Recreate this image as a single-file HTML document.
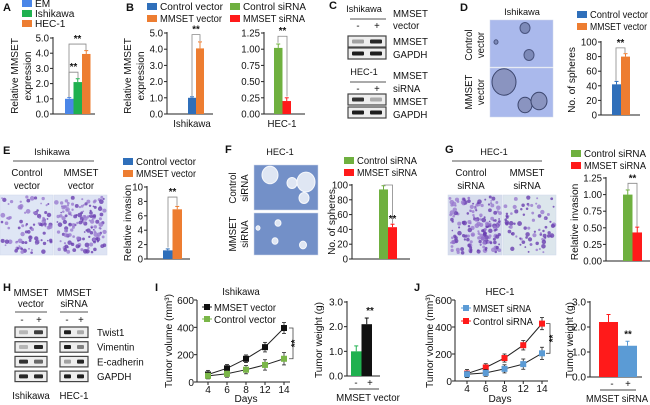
<!DOCTYPE html>
<html><head><meta charset="utf-8"><style>
html,body{margin:0;padding:0;background:#fff;}
svg{display:block;font-family:"Liberation Sans",Arial,sans-serif;}
</style></head><body>
<svg id="fig" width="650" height="405" viewBox="0 0 650 405"></svg>
<script>
// ---- data ----
const aCats=['EM','Ishikawa','HEC-1'];
const aVals=[1.0,2.1,3.95];
const aErr=[0.08,0.22,0.22];
const bIshVals=[1.0,4.05];
const bIshErr=[0.06,0.4];
const bHecVals=[1.02,0.2];
const bHecErr=[0.06,0.05];
const dVals=[42,80];
const dErr=[4,4];
const eVals=[1.2,6.9];
const eErr=[0.2,0.4];
const fVals=[94,43];
const fErr=[5,4];
const gVals=[1.0,0.43];
const gErr=[0.07,0.08];
const days=[4,6,8,12,14];
const iMmset=[55,100,170,255,395];
const iMmsetErr=[30,28,28,35,40];
const iCtrl=[45,60,90,125,170];
const iCtrlErr=[22,25,30,38,45];
const iwVals=[1.0,2.1];
const iwErr=[0.22,0.25];
const jMmset=[50,60,90,125,205];
const jMmsetErr=[20,25,30,38,45];
const jCtrl=[55,100,170,265,425];
const jCtrlErr=[30,28,30,35,45];
const jwVals=[2.2,1.25];
const jwErr=[0.3,0.18];
const volTicks=[0,200,400,600];
const wTicks=[0,1,2,3];

const NS='http://www.w3.org/2000/svg';
const svg=document.getElementById('fig');
const BLUE='#2f6fba',ORANGE='#ed7d31',GREEN='#6fb03f',RED='#ff1a1a',AGREEN='#1fb14f',LBLUE='#5b9bd5';

function el(tag,attrs,name,parent){
  const e=document.createElementNS(NS,tag);
  for(const k in attrs) e.setAttribute(k,attrs[k]);
  
  
  (parent||svg).appendChild(e);
  return e;
}
function txt(x,y,s,name,o){
  o=o||{};
  const a={x:x,y:y,'font-size':(o.fs||10)*0.92,'text-anchor':o.anchor||'start',fill:o.fill||'#111'};
  if(o.bold) a['font-weight']='bold';
  if(o.rot) a.transform='rotate(-90 '+x+' '+y+')';
  if(o.len){a.textLength=o.len;a.lengthAdjust='spacingAndGlyphs';}
  const t=el('text',a,name,o.parent);
  t.textContent=s;
  return t;
}
function line(x1,y1,x2,y2,name,c,w){return el('line',{x1:x1,y1:y1,x2:x2,y2:y2,stroke:c||'#222','stroke-width':w||1},name);}

function barChart(p){
  const sy=v=>p.yB-(v/p.max)*(p.yB-p.yT);
  line(p.ax,p.yT-1,p.ax,p.yB,p.name+'-y-axis');
  line(p.ax,p.yB,p.xEnd,p.yB,p.name+'-x-axis');
  p.ticks.forEach(t=>{
    const y=sy(t);
    line(p.ax-3,y,p.ax,y,p.name+'-tick');
    txt(p.ax-4,y+3.5,t.toFixed(p.dec),p.name+'-tick-label',{fs:p.tfs||10.5,anchor:'end'});
  });
  p.vals.forEach((v,i)=>{
    const x=p.bx0+i*p.bw, y=sy(v), ey=sy(v+p.errs[i]);
    el('rect',{x:x,y:y,width:p.bw,height:p.yB-y,fill:p.cols[i]},p.name+'-bar-'+i);
    line(x+p.bw/2,y,x+p.bw/2,ey,p.name+'-error-bar',p.ecol||p.cols[i]);
    line(x+p.bw/2-2,ey,x+p.bw/2+2,ey,p.name+'-error-cap',p.ecol||p.cols[i]);
  });
  return sy;
}
function bracket(x1,x2,y1,y2,top,name){
  el('path',{d:'M'+x1+' '+y1+'V'+top+'H'+x2+'V'+y2,fill:'none',stroke:'#888','stroke-width':0.8},name);
  txt((x1+x2)/2,top-2,'**',name+'-stars',{fs:10.5,anchor:'middle',bold:true});
}
function legend(x,y,col,label,name,len){
  el('rect',{x:x,y:y-4,width:10,height:7,fill:col},name+'-swatch');
  txt(x+13,y+3,label,name+'-label',{fs:11,len:len});
}
function panel(x,y,s){txt(x,y,s,'panel-label-'+s,{fs:12,bold:true});}

// seeded generator for decorative micrograph texture only
let seed=7;
function rnd(){seed=(seed*16807)%2147483647;return seed/2147483647;}
function micro(x,y,w,h,bg,name,n,kind){
  el('rect',{x:x,y:y,width:w,height:h,fill:bg,stroke:'#cfd8ea','stroke-width':0.5},name);
  for(let i=0;i<n;i++){
    const cx=x+2+rnd()*(w-4),cy=y+2+rnd()*(h-4);
    if(kind==='cells'){
      el('circle',{cx:cx,cy:cy,r:0.8+rnd()*1.6,fill:rnd()<0.5?'#6a3fb0':'#9a7bd0','fill-opacity':0.8},name+'-cell');
    }
  }
}
function sphere(cx,cy,r,fill,stroke,name){el('ellipse',{cx:cx,cy:cy,rx:r,ry:r*1.1,fill:fill,stroke:stroke,'stroke-width':1},name);}

// ===== Panel A =====
panel(3,11,'A');
legend(22,4,'#4a86e8',aCats[0],'a-legend-em');
legend(22,14,AGREEN,aCats[1],'a-legend-ishikawa');
legend(22,24,ORANGE,aCats[2],'a-legend-hec1');
let sy=barChart({name:'a-chart',ax:53,yB:114,yT:38,max:5,ticks:[0,1,2,3,4,5],dec:1,vals:aVals,errs:aErr,cols:['#4a86e8',AGREEN,ORANGE],bx0:65,bw:8.5,xEnd:95});
bracket(69,78,sy(1.1),sy(2.35),sy(2.75),'a-bracket-1');
bracket(69,86,sy(1.1),sy(4.2),sy(4.6),'a-bracket-2');
txt(18,76,'Relative MMSET','a-y-axis-title-1',{fs:11,anchor:'middle',rot:true});
txt(31,76,'expression','a-y-axis-title-2',{fs:11,anchor:'middle',rot:true});

// ===== Panel B =====
panel(126,11,'B');
legend(147,7,BLUE,'Control vector','b-legend-control-vector',63);
legend(147,19,ORANGE,'MMSET vector','b-legend-mmset-vector',62);
legend(230,7,GREEN,'Control siRNA','b-legend-control-sirna',63);
legend(230,19,RED,'MMSET siRNA','b-legend-mmset-sirna',62);
sy=barChart({name:'b-ishikawa-chart',ax:167,yB:114,yT:33,max:5,ticks:[0,1,2,3,4,5],dec:1,vals:bIshVals,errs:bIshErr,cols:[BLUE,ORANGE],bx0:188,bw:8,xEnd:213});
bracket(192,200,sy(1.1),sy(4.5),sy(4.9),'b-bracket-1');
txt(192,127,'Ishikawa','b-ishikawa-label',{fs:10.5,anchor:'middle'});
sy=barChart({name:'b-hec1-chart',ax:264,yB:114,yT:33,max:1.25,ticks:[0,0.25,0.5,0.75,1,1.25],dec:2,vals:bHecVals,errs:bHecErr,cols:[GREEN,RED],bx0:274,bw:8.5,xEnd:305});
bracket(278,287,sy(1.1),sy(0.27),sy(1.2),'b-bracket-2');
txt(282,127,'HEC-1','b-hec1-label',{fs:10.5,anchor:'middle'});
txt(131,76,'Relative MMSET','b-y-axis-title-1',{fs:11,anchor:'middle',rot:true});
txt(144,76,'expression','b-y-axis-title-2',{fs:11,anchor:'middle',rot:true});

// ===== Panel C =====
panel(329,9,'C');
function blot(x,y,w,h,i1,i2,name){
  el('rect',{x:x,y:y,width:w,height:h,fill:'#eeeeee',stroke:'#444','stroke-width':1.2},name);
  el('rect',{x:x+4,y:y+h/2-2,width:w/2-7,height:4,rx:1,fill:'#111','fill-opacity':i1},name+'-band-1');
  el('rect',{x:x+w/2+3,y:y+h/2-2,width:w/2-7,height:4,rx:1,fill:'#111','fill-opacity':i2},name+'-band-2');
}
txt(364,12,'Ishikawa','c-ishikawa-label',{fs:10,anchor:'middle'});
line(350,19,386,19,'c-ishikawa-line','#777',1.2);
txt(358,29,'-','c-minus-1',{fs:10.5,anchor:'middle'});txt(377,29,'+','c-plus-1',{fs:10.5,anchor:'middle'});
blot(348,36,38,11,0.35,0.9,'c-blot-mmset-ishikawa');
blot(348,48,38,11,0.95,0.95,'c-blot-gapdh-ishikawa');
txt(393,17,'MMSET','c-label-mmset-1',{fs:10.5});txt(393,29,'vector','c-label-vector',{fs:10.5});
txt(393,45,'MMSET','c-label-mmset-2',{fs:10.5});txt(393,58,'GAPDH','c-label-gapdh-1',{fs:10.5});
txt(364,75,'HEC-1','c-hec1-label',{fs:10,anchor:'middle'});
line(350,82,386,82,'c-hec1-line','#777',1.2);
txt(358,92,'-','c-minus-2',{fs:10.5,anchor:'middle'});txt(377,92,'+','c-plus-2',{fs:10.5,anchor:'middle'});
blot(348,94,38,11,0.85,0.3,'c-blot-mmset-hec1');
blot(348,107,38,11,0.95,0.95,'c-blot-gapdh-hec1');
txt(393,79,'MMSET','c-label-mmset-3',{fs:10.5});txt(393,92,'siRNA','c-label-sirna',{fs:10.5});
txt(393,105,'MMSET','c-label-mmset-4',{fs:10.5});txt(393,118,'GAPDH','c-label-gapdh-2',{fs:10.5});

// ===== Panel D =====
panel(460,11,'D');
txt(522,15,'Ishikawa','d-ishikawa-label',{fs:10,anchor:'middle'});
micro(490,20,63,47,'#aab9ec','d-image-control',0);
micro(490,68,63,49,'#aab9ec','d-image-mmset',0);
sphere(525,28,5,'#7d8ab8','#4a5580','d-sphere');sphere(529,55,5,'#7d8ab8','#4a5580','d-sphere');sphere(496,42,2,'#7d8ab8','#4a5580','d-sphere');
sphere(504,82,12,'#8a94c0','#3c466e','d-sphere');sphere(525,105,7,'#8a94c0','#3c466e','d-sphere');sphere(539,101,8,'#8a94c0','#3c466e','d-sphere');
txt(472,45,'Control','d-row-label-1a',{fs:10.5,anchor:'middle',rot:true});txt(484,45,'vector','d-row-label-1b',{fs:10.5,anchor:'middle',rot:true});
txt(472,92,'MMSET','d-row-label-2a',{fs:10.5,anchor:'middle',rot:true});txt(484,92,'vector','d-row-label-2b',{fs:10.5,anchor:'middle',rot:true});
legend(577,15,BLUE,'Control vector','d-legend-control',58);
legend(577,27,ORANGE,'MMSET vector','d-legend-mmset',57);
sy=barChart({name:'d-chart',ax:601,yB:115,yT:42,max:100,ticks:[0,20,40,60,80,100],dec:0,vals:dVals,errs:dErr,cols:[BLUE,ORANGE],bx0:612,bw:9,xEnd:640});
bracket(616,625,sy(47),sy(85),sy(92),'d-bracket');
txt(575,80,'No. of spheres','d-y-axis-title',{fs:11,anchor:'middle',rot:true});

// ===== Panel E =====
panel(3,154,'E');
txt(52,155,'Ishikawa','e-ishikawa-label',{fs:10,anchor:'middle'});
line(13,161,94,161,'e-line','#777',1.2);
txt(27,176,'Control','e-col-label-1a',{fs:10.5,anchor:'middle'});txt(27,189,'vector','e-col-label-1b',{fs:10.5,anchor:'middle'});
txt(81,176,'MMSET','e-col-label-2a',{fs:10.5,anchor:'middle'});txt(81,189,'vector','e-col-label-2b',{fs:10.5,anchor:'middle'});
seed=11;micro(0,195,53,60,'#dfe6f5','e-image-control',90,'cells');
micro(54,195,53,60,'#dde3f3','e-image-mmset',150,'cells');
legend(123,162,BLUE,'Control vector','e-legend-control',60);
legend(123,174,ORANGE,'MMSET vector','e-legend-mmset',60);
sy=barChart({name:'e-chart',ax:147,yB:259,yT:187,max:10,ticks:[0,2,4,6,8,10],dec:0,vals:eVals,errs:eErr,cols:[BLUE,ORANGE],bx0:163,bw:9.5,xEnd:190});
bracket(168,177,sy(1.6),sy(7.4),sy(8.6),'e-bracket');
txt(131,223,'Relative invasion','e-y-axis-title',{fs:11,anchor:'middle',rot:true});

// ===== Panel F =====
panel(225,153,'F');
txt(280,155,'HEC-1','f-hec1-label',{fs:10,anchor:'middle'});
micro(254,165,64,45,'#7390c8','f-image-control',0);
micro(254,213,64,42,'#7390c8','f-image-mmset',0);
sphere(270,175,8,'#dfe6f3','#f6f8fc','f-sphere');sphere(306,182,9,'#dfe6f3','#f6f8fc','f-sphere');sphere(292,183,5,'#dfe6f3','#f6f8fc','f-sphere');sphere(304,198,5,'#dfe6f3','#f6f8fc','f-sphere');
sphere(278,223,3,'#dfe6f3','#f6f8fc','f-sphere');sphere(258,228,2,'#dfe6f3','#f6f8fc','f-sphere');sphere(275,241,3,'#dfe6f3','#f6f8fc','f-sphere');sphere(303,245,3.5,'#dfe6f3','#f6f8fc','f-sphere');
txt(236,188,'Control','f-row-label-1a',{fs:10.5,anchor:'middle',rot:true});txt(248,188,'siRNA','f-row-label-1b',{fs:10.5,anchor:'middle',rot:true});
txt(236,234,'MMSET','f-row-label-2a',{fs:10.5,anchor:'middle',rot:true});txt(248,234,'siRNA','f-row-label-2b',{fs:10.5,anchor:'middle',rot:true});
legend(344,161,GREEN,'Control siRNA','f-legend-control',60);
legend(344,173,RED,'MMSET siRNA','f-legend-mmset',60);
sy=barChart({name:'f-chart',ax:352,yB:259,yT:185,max:100,ticks:[0,20,40,60,80,100],dec:0,vals:fVals,errs:fErr,cols:[GREEN,RED],bx0:379,bw:9,xEnd:410});
el('path',{d:'M383.5 '+sy(100)+'V'+sy(100)+'H392.5V'+sy(48),fill:'none',stroke:'#888','stroke-width':0.8},'f-bracket');
txt(392.5,sy(50),'**','f-bracket-stars',{fs:10.5,anchor:'middle',bold:true});
txt(335,222,'No. of spheres','f-y-axis-title',{fs:11,anchor:'middle',rot:true});

// ===== Panel G =====
panel(445,153,'G');
txt(494,155,'HEC-1','g-hec1-label',{fs:10,anchor:'middle'});
line(452,161,542,161,'g-line','#777',1.2);
txt(471,176,'Control','g-col-label-1a',{fs:10.5,anchor:'middle'});txt(471,189,'siRNA','g-col-label-1b',{fs:10.5,anchor:'middle'});
txt(527,176,'MMSET','g-col-label-2a',{fs:10.5,anchor:'middle'});txt(527,189,'siRNA','g-col-label-2b',{fs:10.5,anchor:'middle'});
seed=23;micro(448,195,54,60,'#d6dcec','g-image-control',170,'cells');
micro(503,195,53,60,'#dce6ec','g-image-mmset',80,'cells');
legend(571,154,GREEN,'Control siRNA','g-legend-control',62);
legend(571,166,RED,'MMSET siRNA','g-legend-mmset',62);
sy=barChart({name:'g-chart',ax:606,yB:261,yT:178,max:1.25,ticks:[0,0.25,0.5,0.75,1,1.25],dec:2,vals:gVals,errs:gErr,cols:[GREEN,RED],bx0:623,bw:9.5,xEnd:650});
bracket(628,637,sy(1.08),sy(0.52),sy(1.17),'g-bracket');
txt(578,222,'Relative invasion','g-y-axis-title',{fs:11,anchor:'middle',rot:true});

// ===== Panel H =====
panel(3,291,'H');
txt(31,296,'MMSET','h-col-label-1a',{fs:10.5,anchor:'middle'});txt(31,307,'vector','h-col-label-1b',{fs:10.5,anchor:'middle'});
txt(74,296,'MMSET','h-col-label-2a',{fs:10.5,anchor:'middle'});txt(74,307,'siRNA','h-col-label-2b',{fs:10.5,anchor:'middle'});
line(15,312,47,312,'h-line-1','#777',1.2);line(60,312,88,312,'h-line-2','#777',1.2);
[[22,'-'],[39,'+'],[67,'-'],[81,'+']].forEach(p=>txt(p[0],323,p[1],'h-sign',{fs:10.5,anchor:'middle'}));
const hRows=[['Twist1',0.25,0.8,0.95,0.3],['Vimentin',0.25,0.9,0.95,0.5],['E-cadherin',0.85,0.6,0.35,0.9],['GAPDH',0.9,0.9,0.95,0.95]];
hRows.forEach((r,i)=>{
  const y=327+i*14.7;
  blot(15,y,32,10.5,r[1],r[2],'h-blot-ishikawa-'+r[0].toLowerCase());
  blot(60,y,28,10.5,r[3],r[4],'h-blot-hec1-'+r[0].toLowerCase());
  txt(97,y+9,r[0],'h-label-'+r[0].toLowerCase(),{fs:10.5});
});
txt(31,399,'Ishikawa','h-ishikawa-label',{fs:10.5,anchor:'middle'});
txt(74,399,'HEC-1','h-hec1-label',{fs:10.5,anchor:'middle'});

// ===== line chart helper =====
function lineChart(p){
  const syv=v=>p.yB-(v/600)*(p.yB-p.yT);
  const sx=i=>p.x0+i*(p.x1-p.x0)/(days.length-1);
  line(p.ax,p.yT,p.ax,p.yB,p.name+'-y-axis');
  line(p.ax,p.yB,p.x1+6,p.yB,p.name+'-x-axis');
  volTicks.forEach(t=>{line(p.ax-3,syv(t),p.ax,syv(t),p.name+'-tick');txt(p.ax-3,syv(t)+4,String(t),p.name+'-tick-label',{fs:11,anchor:'end'});});
  days.forEach((d,i)=>{line(sx(i),p.yB,sx(i),p.yB+3,p.name+'-x-tick');txt(sx(i),p.yB+11,String(d),p.name+'-x-tick-label',{fs:11,anchor:'middle'});});
  p.series.forEach(s=>{
    el('polyline',{points:s.v.map((v,i)=>sx(i)+','+syv(v)).join(' '),fill:'none',stroke:'#222','stroke-width':1},p.name+'-line-'+s.key);
    s.v.forEach((v,i)=>{
      const x=sx(i),y=syv(v),e=s.e[i];
      line(x,syv(v-e),x,syv(v+e),p.name+'-error-bar','#222',0.8);
      line(x-2,syv(v+e),x+2,syv(v+e),p.name+'-error-cap','#222',0.8);
      line(x-2,syv(v-e),x+2,syv(v-e),p.name+'-error-cap','#222',0.8);
      el('rect',{x:x-3,y:y-3,width:6,height:6,fill:s.c},p.name+'-point-'+s.key);
    });
  });
  return {syv,sx};
}

// ===== Panel I =====
panel(155,291,'I');
txt(241,295,'Ishikawa','i-title',{fs:10.5,anchor:'middle'});
let L=lineChart({name:'i-volume-chart',ax:197,yB:382,yT:300,x0:208,x1:284,series:[{key:'mmset',v:iMmset,e:iMmsetErr,c:'#111'},{key:'control',v:iCtrl,e:iCtrlErr,c:'#7ab648'}]});
line(202,307,212,307,'i-legend-mmset-line');el('rect',{x:204,y:304,width:6,height:6,fill:'#111'},'i-legend-mmset-marker');
txt(214,311,'MMSET vector','i-legend-mmset-label',{fs:11,len:62});
line(202,319,212,319,'i-legend-control-line','#7ab648');el('rect',{x:204,y:316,width:6,height:6,fill:'#7ab648'},'i-legend-control-marker');
txt(214,323,'Control vector','i-legend-control-label',{fs:11,len:62});
el('path',{d:'M289 '+L.syv(iMmset[4])+'H293V'+L.syv(iCtrl[4])+'H289',fill:'none',stroke:'#444','stroke-width':0.8},'i-bracket');
txt(298,(L.syv(iMmset[4])+L.syv(iCtrl[4]))/2,'**','i-bracket-stars',{fs:10.5,anchor:'middle',rot:true,bold:true});
txt(172,341,'Tumor volume (mm³)','i-y-axis-title',{fs:11,anchor:'middle',rot:true});
txt(246,402,'Days','i-x-axis-title',{fs:11,anchor:'middle'});
sy=barChart({name:'i-weight-chart',ax:347,yB:376,yT:302,max:3,ticks:wTicks,dec:1,tfs:11,vals:iwVals,errs:iwErr,cols:[AGREEN,'#111'],bx0:351,bw:10.5,xEnd:380});
txt(370,sy(iwVals[1]+iwErr[1])-4,'**','i-weight-stars',{fs:10.5,anchor:'middle',bold:true});
txt(356,386,'-','i-weight-minus',{fs:10.5,anchor:'middle'});txt(370,386,'+','i-weight-plus',{fs:10.5,anchor:'middle'});
line(349,389,379,389,'i-weight-line','#444');
txt(368,401,'MMSET vector','i-weight-x-label',{fs:10.5,anchor:'middle'});
txt(322,340,'Tumor weight (g)','i-weight-y-axis-title',{fs:11,anchor:'middle',rot:true});

// ===== Panel J =====
panel(414,291,'J');
txt(500,295,'HEC-1','j-title',{fs:10.5,anchor:'middle'});
L=lineChart({name:'j-volume-chart',ax:455,yB:381,yT:300,x0:467,x1:542,series:[{key:'control',v:jCtrl,e:jCtrlErr,c:'#ff1a1a'},{key:'mmset',v:jMmset,e:jMmsetErr,c:LBLUE}]});
line(461,308,471,308,'j-legend-mmset-line',LBLUE);el('rect',{x:463,y:305,width:6,height:6,fill:LBLUE},'j-legend-mmset-marker');
txt(473,312,'MMSET siRNA','j-legend-mmset-label',{fs:11,len:58});
line(461,321,471,321,'j-legend-control-line','#ff1a1a');el('rect',{x:463,y:318,width:6,height:6,fill:'#ff1a1a'},'j-legend-control-marker');
txt(473,325,'Control siRNA','j-legend-control-label',{fs:11,len:60});
el('path',{d:'M546 '+L.syv(jCtrl[4])+'H550V'+L.syv(jMmset[4])+'H546',fill:'none',stroke:'#444','stroke-width':0.8},'j-bracket');
txt(556,(L.syv(jCtrl[4])+L.syv(jMmset[4]))/2,'**','j-bracket-stars',{fs:10.5,anchor:'middle',rot:true,bold:true});
txt(433,341,'Tumor volume (mm³)','j-y-axis-title',{fs:11,anchor:'middle',rot:true});
txt(500,402,'Days','j-x-axis-title',{fs:11,anchor:'middle'});
sy=barChart({name:'j-weight-chart',ax:590,yB:377,yT:302,max:3,ticks:wTicks,dec:1,tfs:11,vals:jwVals,errs:jwErr,cols:['#ff1a1a',LBLUE],bx0:599,bw:19,xEnd:642});
txt(628,sy(jwVals[1]+jwErr[1])-4,'**','j-weight-stars',{fs:10.5,anchor:'middle',bold:true});
txt(612,387,'-','j-weight-minus',{fs:10.5,anchor:'middle'});txt(628,387,'+','j-weight-plus',{fs:10.5,anchor:'middle'});
line(600,390,636,390,'j-weight-line','#444');
txt(617,402,'MMSET siRNA','j-weight-x-label',{fs:10.5,anchor:'middle',len:62});
txt(573,340,'Tumor weight (g)','j-weight-y-axis-title',{fs:11,anchor:'middle',rot:true});
</script>
</body></html>
